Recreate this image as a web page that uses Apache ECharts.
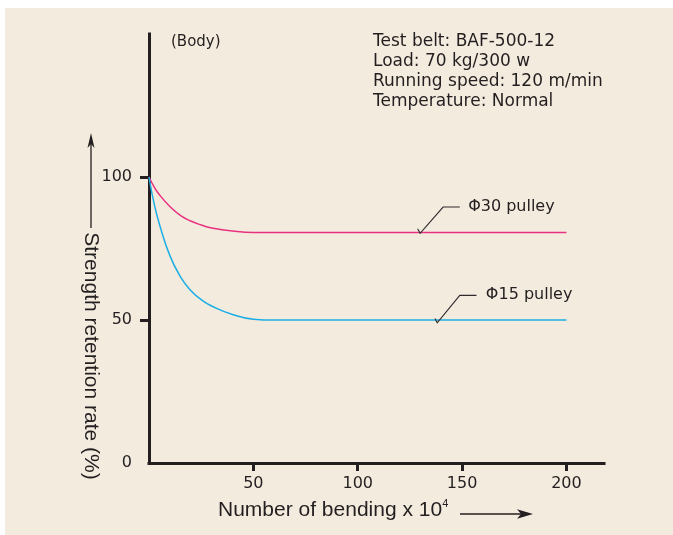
<!DOCTYPE html>
<html>
<head>
<meta charset="utf-8">
<script src="https://cdn.jsdelivr.net/npm/echarts@6/dist/echarts.min.js"></script>
<style>
  html, body { margin: 0; padding: 0; background: #ffffff; }
  #chart { width: 673px; height: 535px; }
</style>
</head>
<body>
<div id="chart"></div>
<script>
// ---- data ----
const bendingX   = [0, 2.5, 5, 10, 15, 20, 25, 30, 40, 50, 60, 100, 150, 200];
const phi30Pulley = [100, 96.5, 93.8, 89.7, 86.6, 84.6, 83.2, 82.2, 81.1, 80.6, 80.6, 80.6, 80.6, 80.6];
const phi15Pulley = [100, 90.5, 83.5, 72.5, 65.2, 60.3, 57.1, 54.9, 51.9, 50.3, 50, 50, 50, 50];
const xTicks = [50, 100, 150, 200];
const yTickLabels = [0, 50, 100];
const yTickMarks = [50, 100];
const seriesNames = ['Φ30 pulley', 'Φ15 pulley'];
const infoLines = ['Test belt: BAF-500-12', 'Load: 70 kg/300 w', 'Running speed: 120 m/min', 'Temperature: Normal'];
const bodyLabel = '(Body)';
const yTitle = 'Strength retention rate (%)';
const xTitleMain = 'Number of bending x 10';
const xTitleSup = '4';

// ---- styling ----
const INK = '#231f20';
const PINK = '#e8327f';
const CYAN = '#1aaee5';
const BG = '#f4ebdf';
const SMALL_FONT = 'DejaVu Sans';
const TITLE_FONT = 'Liberation Sans';

const chart = echarts.init(document.getElementById('chart'), null, { renderer: 'canvas' });

function pairs(xs, ys) { return xs.map((x, i) => [x, ys[i]]); }

const option = {
  backgroundColor: '#ffffff',
  animation: false,
  grid: { left: 149, right: 69, top: 34, bottom: 72, containLabel: false },
  xAxis: {
    type: 'value', min: 0, max: 218,
    axisLine: { show: true, lineStyle: { color: INK, width: 3, cap: 'square' } },
    axisTick: { show: true, customValues: xTicks, length: 8, lineStyle: { color: INK, width: 3 } },
    axisLabel: { customValues: xTicks, margin: 13, fontSize: 16, fontFamily: SMALL_FONT, color: INK },
    splitLine: { show: false }
  },
  yAxis: {
    type: 'value', min: 0, max: 150,
    axisLine: { show: true, lineStyle: { color: INK, width: 3, cap: 'square' } },
    axisTick: { show: true, customValues: yTickMarks, length: 9, lineStyle: { color: INK, width: 3 } },
    axisLabel: { customValues: yTickLabels, margin: 17, fontSize: 16, fontFamily: SMALL_FONT, color: INK },
    splitLine: { show: false }
  },
  series: [
    { name: seriesNames[0], type: 'line', data: pairs(bendingX, phi30Pulley), smooth: 0.5,
      showSymbol: false, lineStyle: { color: PINK, width: 1.5 }, z: 3 },
    { name: seriesNames[1], type: 'line', data: pairs(bendingX, phi15Pulley), smooth: 0.5,
      showSymbol: false, lineStyle: { color: CYAN, width: 1.5 }, z: 3 }
  ]
};
chart.setOption(option);

// annotation leaders in data coordinates
const leaders = [
  { pts: [[128.7, 81.9], [129.9, 80.3], [140.9, 89.5], [148.9, 89.5]], label: [152.9, 89.4], text: seriesNames[0] },
  { pts: [[137.0, 50.5], [138.1, 49.0], [148.9, 58.6], [156.9, 58.6]], label: [161.4, 58.8], text: seriesNames[1] }
];
const toPx = p => chart.convertToPixel({ gridIndex: 0 }, p);

const graphics = [
  { type: 'rect', z: -100, silent: true, shape: { x: 5, y: 8, width: 668, height: 527 }, style: { fill: BG } },
  // info block
  { type: 'text', x: 373, y: 31, z: 10, style: { text: infoLines.join('\n'), fill: INK, font: '17px "' + SMALL_FONT + '"', lineHeight: 20.3, align: 'left', verticalAlign: 'top', textAlign: 'left', textVerticalAlign: 'top' } },
  // (Body)
  { type: 'text', x: 171, y: 41.7, z: 10, style: { text: bodyLabel, fill: INK, font: '15px "' + SMALL_FONT + '"', align: 'left', verticalAlign: 'middle', textAlign: 'left', textVerticalAlign: 'middle' } },
  // y title
  { type: 'text', x: 91, y: 356, rotation: -Math.PI / 2, z: 10, style: { text: yTitle, fill: INK, font: '21px "' + TITLE_FONT + '"', align: 'center', verticalAlign: 'middle', textAlign: 'center', textVerticalAlign: 'middle' } },
  { type: 'line', z: 10, shape: { x1: 91, y1: 228, x2: 91, y2: 142 }, style: { stroke: INK, lineWidth: 1.3 } },
  { type: 'polygon', z: 10, shape: { points: [[91, 133], [87.5, 148], [91, 144], [94.5, 148]] }, style: { fill: INK } },
  // x title
  { type: 'text', x: 218, y: 510, z: 10, style: {
      text: '{m|' + xTitleMain + '}{s|' + xTitleSup + '}', fill: INK, align: 'left', verticalAlign: 'middle', textAlign: 'left', textVerticalAlign: 'middle',
      rich: { m: { font: '21px "' + TITLE_FONT + '"', fill: INK, lineHeight: 24 },
              s: { font: '11px "' + TITLE_FONT + '"', fill: INK, lineHeight: 19, verticalAlign: 'top' } } } },
  { type: 'line', z: 10, shape: { x1: 460, y1: 514, x2: 524, y2: 514 }, style: { stroke: INK, lineWidth: 1.3 } },
  { type: 'polygon', z: 10, shape: { points: [[533, 514], [517, 509.3], [521, 514], [517, 518.7]] }, style: { fill: INK } }
];

leaders.forEach(l => {
  graphics.push({ type: 'polyline', z: 10, shape: { points: l.pts.map(toPx) }, style: { stroke: '#2f2a2b', lineWidth: 1.1, fill: null } });
  const lp = toPx(l.label);
  graphics.push({ type: 'text', x: lp[0], y: lp[1], z: 10, style: { text: l.text, fill: INK, font: '16px "' + SMALL_FONT + '"', align: 'left', verticalAlign: 'middle', textAlign: 'left', textVerticalAlign: 'middle' } });
});

chart.setOption({ graphic: { elements: graphics } });
</script>
</body>
</html>
